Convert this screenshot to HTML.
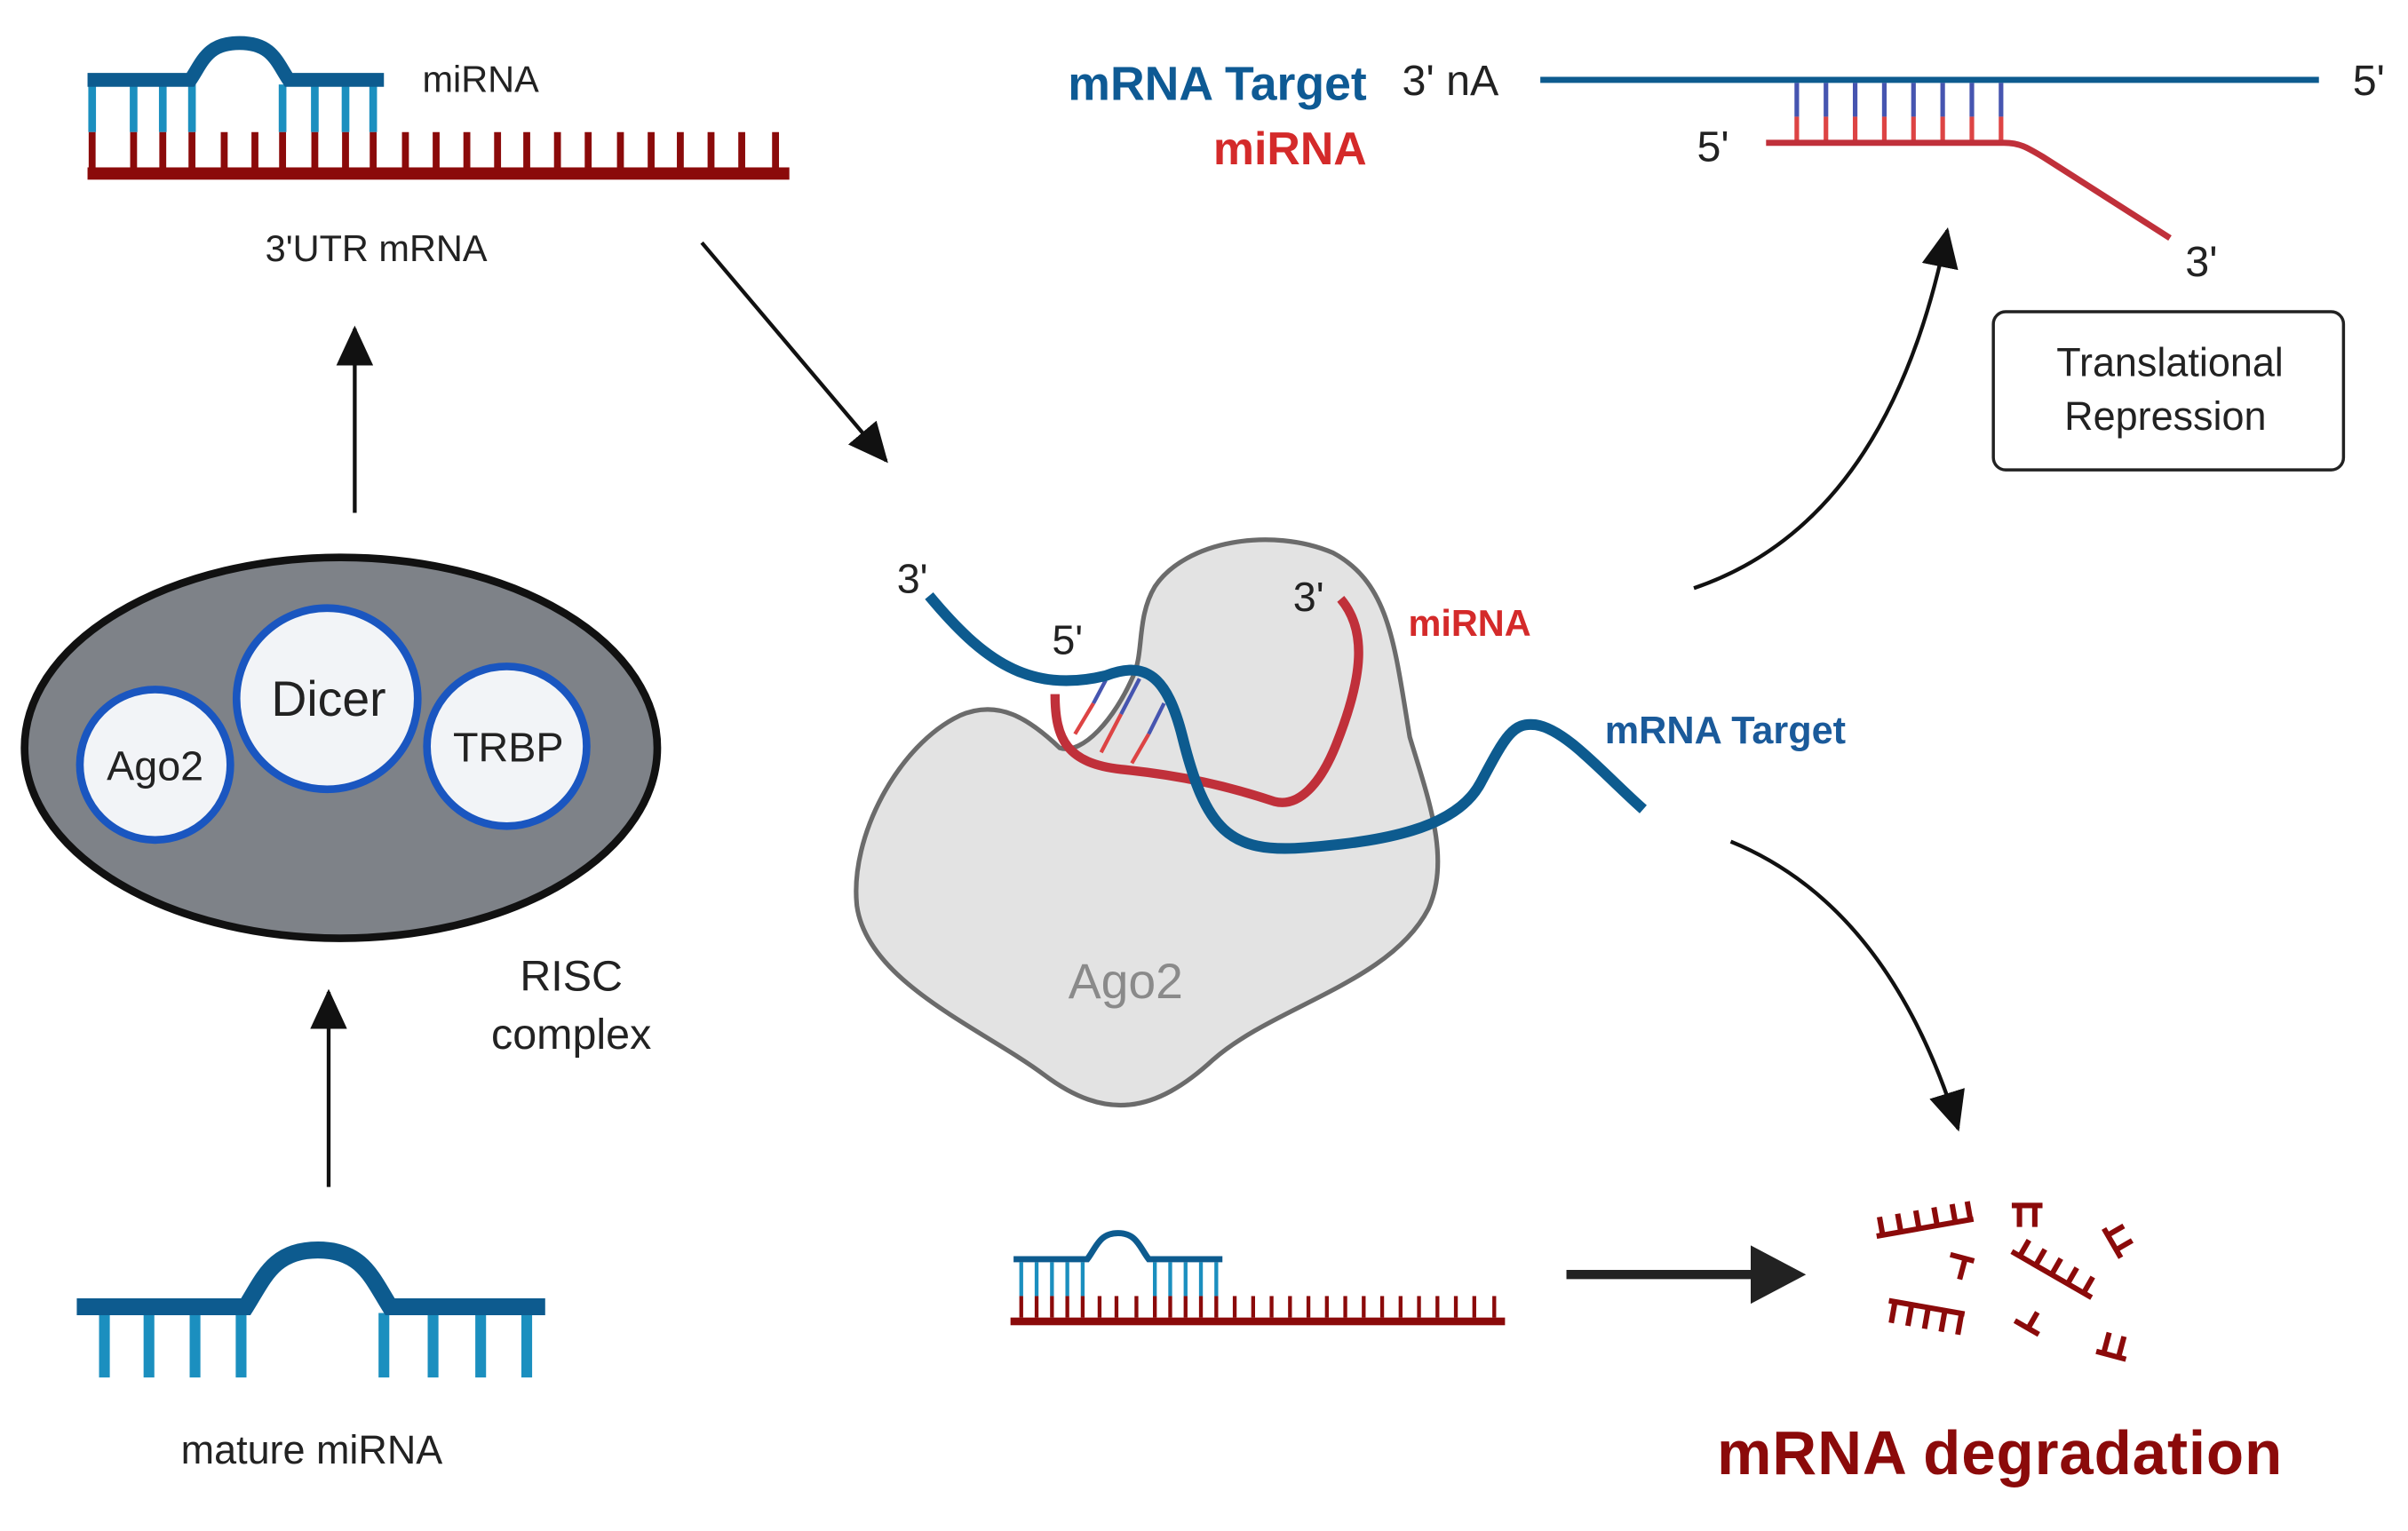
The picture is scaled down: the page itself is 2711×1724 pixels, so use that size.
<!DOCTYPE html>
<html><head><meta charset="utf-8"><style>html,body{margin:0;padding:0;background:#fff}svg{display:block}text{font-family:"Liberation Sans",sans-serif}</style></head>
<body>
<svg width="2711" height="1724" viewBox="0 0 1568 997" preserveAspectRatio="none" xmlns="http://www.w3.org/2000/svg">
<defs>
<marker id="ah2" markerWidth="26" markerHeight="24" refX="24" refY="12" orient="auto" markerUnits="userSpaceOnUse" viewBox="0 0 26 24"><path d="M0,0 L26,12 L0,24 Z" fill="#111"/></marker>
</defs>
<rect width="1568" height="997" fill="#fff"/>

<g stroke="#1b8fbf" stroke-width="5">
<line x1="60" y1="55" x2="60" y2="86"/><line x1="87" y1="55" x2="87" y2="86"/><line x1="106" y1="55" x2="106" y2="86"/><line x1="125" y1="55" x2="125" y2="86"/>
<line x1="184" y1="55" x2="184" y2="86"/><line x1="205" y1="55" x2="205" y2="86"/><line x1="225" y1="55" x2="225" y2="86"/><line x1="243" y1="55" x2="243" y2="86"/>
</g>
<path d="M57,52 H124 C132,40 135,28 156,28 C177,28 180,40 188,52 H250" fill="none" stroke="#0d5b8f" stroke-width="9"/>
<g stroke="#8b0a0a" stroke-width="4.5">
<line x1="60" y1="86" x2="60" y2="112"/><line x1="87" y1="86" x2="87" y2="112"/><line x1="106" y1="86" x2="106" y2="112"/><line x1="125" y1="86" x2="125" y2="112"/><line x1="146" y1="86" x2="146" y2="112"/><line x1="166" y1="86" x2="166" y2="112"/><line x1="184" y1="86" x2="184" y2="112"/><line x1="205" y1="86" x2="205" y2="112"/><line x1="225" y1="86" x2="225" y2="112"/><line x1="243" y1="86" x2="243" y2="112"/><line x1="264" y1="86" x2="264" y2="112"/><line x1="284" y1="86" x2="284" y2="112"/><line x1="304" y1="86" x2="304" y2="112"/><line x1="324" y1="86" x2="324" y2="112"/><line x1="343" y1="86" x2="343" y2="112"/><line x1="363" y1="86" x2="363" y2="112"/><line x1="383" y1="86" x2="383" y2="112"/><line x1="404" y1="86" x2="404" y2="112"/><line x1="424" y1="86" x2="424" y2="112"/><line x1="443" y1="86" x2="443" y2="112"/><line x1="463" y1="86" x2="463" y2="112"/><line x1="483" y1="86" x2="483" y2="112"/><line x1="505" y1="86" x2="505" y2="112"/>
</g>
<rect x="57" y="109" width="457" height="8" fill="#8b0a0a"/>
<text x="275" y="60" font-size="24" fill="#222">miRNA</text>
<text x="245" y="170" font-size="24" fill="#222" text-anchor="middle">3'UTR mRNA</text>

<line x1="231" y1="334" x2="231" y2="214" stroke="#111" stroke-width="2.5" marker-end="url(#ah2)"/>
<line x1="214" y1="773" x2="214" y2="646" stroke="#111" stroke-width="2.5" marker-end="url(#ah2)"/>
<line x1="457" y1="158" x2="577" y2="300" stroke="#111" stroke-width="2.5" marker-end="url(#ah2)"/>

<ellipse cx="222" cy="487" rx="206" ry="124" fill="#7e8288" stroke="#111" stroke-width="5"/>
<g fill="#f2f4f7" stroke="#1a56c0" stroke-width="5">
<circle cx="101" cy="498" r="49"/><circle cx="213" cy="455" r="59"/><circle cx="330" cy="486" r="52"/>
</g>
<text x="101" y="508" font-size="27" fill="#222" text-anchor="middle">Ago2</text>
<text x="214" y="466" font-size="32" fill="#222" text-anchor="middle">Dicer</text>
<text x="331" y="496" font-size="27" fill="#222" text-anchor="middle">TRBP</text>
<text x="372" y="645" font-size="28" fill="#222" text-anchor="middle">RISC</text>
<text x="372" y="683" font-size="28" fill="#222" text-anchor="middle">complex</text>

<g stroke="#1b8fbf" stroke-width="7">
<line x1="68" y1="855" x2="68" y2="897"/><line x1="97" y1="855" x2="97" y2="897"/><line x1="127" y1="855" x2="127" y2="897"/><line x1="157" y1="855" x2="157" y2="897"/>
<line x1="250" y1="855" x2="250" y2="897"/><line x1="282" y1="855" x2="282" y2="897"/><line x1="313" y1="855" x2="313" y2="897"/><line x1="343" y1="855" x2="343" y2="897"/>
</g>
<path d="M50,851 H160 C172,832 178,814 207,814 C236,814 242,832 254,851 H355" fill="none" stroke="#0d5b8f" stroke-width="11"/>
<text x="203" y="953" font-size="26" fill="#222" text-anchor="middle">mature miRNA</text>

<path d="M690,487 C670,468 650,455 625,466 C585,485 553,545 558,590 C565,640 640,670 680,700 C720,730 752,725 790,690 C830,655 905,640 930,592 C945,560 930,520 918,480 C908,420 905,380 868,360 C828,343 772,352 752,382 C740,402 745,425 738,440 C726,468 705,492 690,487 Z" fill="#e3e3e3" stroke="#6b6b6b" stroke-width="3"/>
<text x="733" y="650" font-size="32" fill="#8a8a8a" text-anchor="middle">Ago2</text>
<g stroke-width="2.5">
<line x1="700" y1="478" x2="712" y2="458" stroke="#d44"/><line x1="712" y1="458" x2="720" y2="443" stroke="#4655b0"/>
<line x1="717" y1="490" x2="730" y2="465" stroke="#d44"/><line x1="730" y1="465" x2="742" y2="442" stroke="#4655b0"/>
<line x1="737" y1="497" x2="748" y2="478" stroke="#d44"/><line x1="748" y1="478" x2="758" y2="458" stroke="#4655b0"/>
</g>
<path d="M687,452 C687,482 695,497 730,501 C770,505 800,512 830,522 C846,526 860,510 870,485 C888,440 890,410 873,390" fill="none" stroke="#c0303a" stroke-width="6"/>
<path d="M605,388 C640,430 670,452 720,440 C746,430 760,440 770,480 C785,540 800,556 850,552 C900,548 948,540 964,510 C980,480 985,470 1000,472 C1020,475 1045,505 1070,527" fill="none" stroke="#0d5b8f" stroke-width="7"/>
<text x="584" y="386" font-size="27" fill="#222">3'</text>
<text x="685" y="426" font-size="27" fill="#222">5'</text>
<text x="842" y="398" font-size="27" fill="#222">3'</text>
<text x="917" y="414" font-size="24" fill="#d42a2a" font-weight="bold">miRNA</text>
<text x="1045" y="484" font-size="25" fill="#1a5a9a" font-weight="bold">mRNA Target</text>

<text x="890" y="65" font-size="31" fill="#0e5a94" font-weight="bold" text-anchor="end">mRNA Target</text>
<text x="890" y="107" font-size="30" fill="#d42a2a" font-weight="bold" text-anchor="end">miRNA</text>
<text x="913" y="62" font-size="28" fill="#222">3' nA</text>
<line x1="1003" y1="52" x2="1510" y2="52" stroke="#0d5b8f" stroke-width="4"/>
<text x="1532" y="62" font-size="28" fill="#222">5'</text>
<g stroke-width="3">
<g stroke="#4655b0"><line x1="1170" y1="54" x2="1170" y2="76"/><line x1="1189" y1="54" x2="1189" y2="76"/><line x1="1208" y1="54" x2="1208" y2="76"/><line x1="1227" y1="54" x2="1227" y2="76"/><line x1="1246" y1="54" x2="1246" y2="76"/><line x1="1265" y1="54" x2="1265" y2="76"/><line x1="1284" y1="54" x2="1284" y2="76"/><line x1="1303" y1="54" x2="1303" y2="76"/></g>
<g stroke="#d44"><line x1="1170" y1="76" x2="1170" y2="92"/><line x1="1189" y1="76" x2="1189" y2="92"/><line x1="1208" y1="76" x2="1208" y2="92"/><line x1="1227" y1="76" x2="1227" y2="92"/><line x1="1246" y1="76" x2="1246" y2="92"/><line x1="1265" y1="76" x2="1265" y2="92"/><line x1="1284" y1="76" x2="1284" y2="92"/><line x1="1303" y1="76" x2="1303" y2="92"/></g>
</g>
<path d="M1150,93 H1305 C1315,93 1320,96 1330,102 L1413,155" fill="none" stroke="#c0303a" stroke-width="4"/>
<text x="1105" y="105" font-size="28" fill="#222">5'</text>
<text x="1423" y="180" font-size="28" fill="#222">3'</text>
<rect x="1298" y="203" width="228" height="103" rx="8" fill="#fff" stroke="#222" stroke-width="2"/>
<text x="1413" y="245" font-size="26" fill="#222" text-anchor="middle">Translational</text>
<text x="1410" y="280" font-size="26" fill="#222" text-anchor="middle">Repression</text>

<path d="M1103,383 Q1230,340 1268,150" fill="none" stroke="#111" stroke-width="2.5" marker-end="url(#ah2)"/>
<path d="M1127,548 Q1230,590 1275,735" fill="none" stroke="#111" stroke-width="2.5" marker-end="url(#ah2)"/>

<g stroke="#1b8fbf" stroke-width="2.5">
<line x1="665" y1="822" x2="665" y2="844"/><line x1="675" y1="822" x2="675" y2="844"/><line x1="685" y1="822" x2="685" y2="844"/><line x1="695" y1="822" x2="695" y2="844"/><line x1="705" y1="822" x2="705" y2="844"/>
<line x1="752" y1="822" x2="752" y2="844"/><line x1="762" y1="822" x2="762" y2="844"/><line x1="772" y1="822" x2="772" y2="844"/><line x1="782" y1="822" x2="782" y2="844"/><line x1="792" y1="822" x2="792" y2="844"/>
</g>
<path d="M660,820 H708 C714,812 716,803 728,803 C740,803 742,812 748,820 H796" fill="none" stroke="#0d5b8f" stroke-width="4"/>
<g stroke="#8b0a0a" stroke-width="2.5">
<line x1="665" y1="844" x2="665" y2="858"/><line x1="675" y1="844" x2="675" y2="858"/><line x1="685" y1="844" x2="685" y2="858"/><line x1="695" y1="844" x2="695" y2="858"/><line x1="705" y1="844" x2="705" y2="858"/><line x1="716" y1="844" x2="716" y2="858"/><line x1="727" y1="844" x2="727" y2="858"/><line x1="740" y1="844" x2="740" y2="858"/><line x1="752" y1="844" x2="752" y2="858"/><line x1="762" y1="844" x2="762" y2="858"/><line x1="772" y1="844" x2="772" y2="858"/><line x1="782" y1="844" x2="782" y2="858"/><line x1="792" y1="844" x2="792" y2="858"/><line x1="804" y1="844" x2="804" y2="858"/><line x1="816" y1="844" x2="816" y2="858"/><line x1="828" y1="844" x2="828" y2="858"/><line x1="840" y1="844" x2="840" y2="858"/><line x1="852" y1="844" x2="852" y2="858"/><line x1="864" y1="844" x2="864" y2="858"/><line x1="876" y1="844" x2="876" y2="858"/><line x1="888" y1="844" x2="888" y2="858"/><line x1="900" y1="844" x2="900" y2="858"/><line x1="912" y1="844" x2="912" y2="858"/><line x1="924" y1="844" x2="924" y2="858"/><line x1="936" y1="844" x2="936" y2="858"/><line x1="948" y1="844" x2="948" y2="858"/><line x1="960" y1="844" x2="960" y2="858"/><line x1="973" y1="844" x2="973" y2="858"/>
</g>
<rect x="658" y="858" width="322" height="5" fill="#8b0a0a"/>

<line x1="1020" y1="830" x2="1145" y2="830" stroke="#222" stroke-width="6"/>
<path d="M1140,811 L1176,830 L1140,849 Z" fill="#222"/>

<g stroke="#8b0a0a" stroke-width="3.5" fill="none">
<g transform="translate(1222,805) rotate(-10)"><path d="M0,0 H64 M4,0 V-12 M16,0 V-12 M28,0 V-12 M40,0 V-12 M52,0 V-12 M62,0 V-12"/></g>
<g transform="translate(1310,785)"><path d="M0,0 H20 M5,0 V14 M15,0 V14"/></g>
<g transform="translate(1310,815) rotate(30)"><path d="M0,0 H60 M6,0 V-12 M18,0 V-12 M30,0 V-12 M42,0 V-12 M54,0 V-12"/></g>
<g transform="translate(1370,800) rotate(60)"><path d="M0,0 H22 M5,0 V-12 M16,0 V-12"/></g>
<g transform="translate(1270,817) rotate(15)"><path d="M0,0 H16 M10,0 V14"/></g>
<g transform="translate(1230,847) rotate(10)"><path d="M0,0 H50 M4,0 V14 M15,0 V14 M26,0 V14 M37,0 V14 M48,0 V14"/></g>
<g transform="translate(1312,860) rotate(30)"><path d="M0,0 H18 M10,0 V-12"/></g>
<g transform="translate(1365,880) rotate(15)"><path d="M0,0 H20 M5,0 V-14 M15,0 V-14"/></g>
</g>
<text x="1118" y="960" font-size="40" fill="#8b0a0a" font-weight="bold" textLength="368">mRNA degradation</text>
</svg>
</body></html>
